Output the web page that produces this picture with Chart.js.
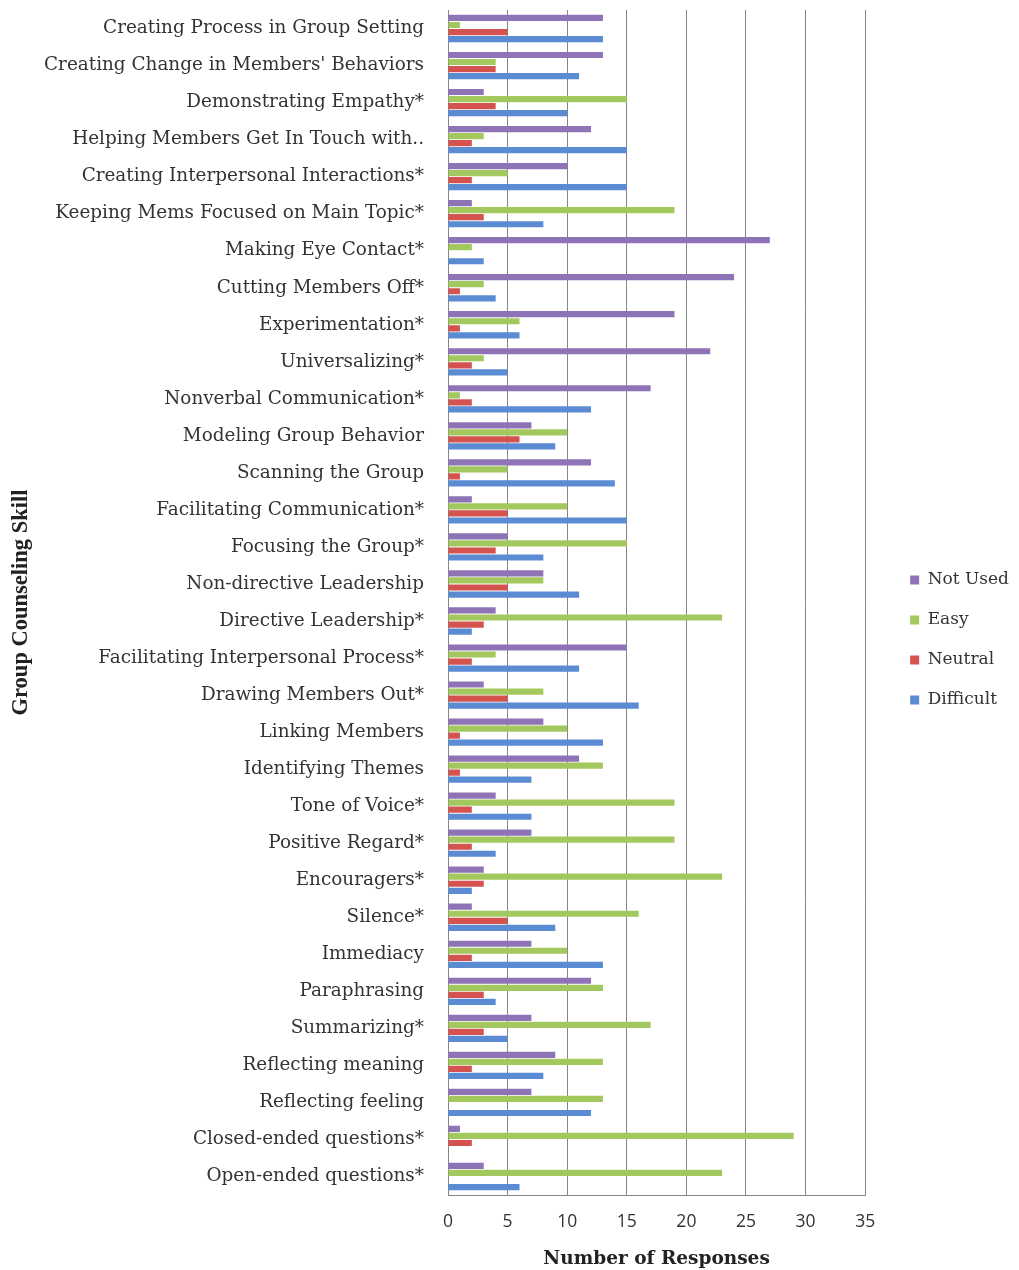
<!DOCTYPE html>
<html>
<head>
<meta charset="utf-8">
<script src="https://cdn.jsdelivr.net/npm/chart.js@4/dist/chart.umd.min.js"></script>
<style>
  html, body { margin: 0; padding: 0; background: #ffffff; }
  #wrap { width: 1019px; height: 1270px; position: relative; }
</style>
</head>
<body>
<div id="wrap"><canvas id="c" width="1019" height="1270"></canvas></div>
<script>
const categories = [
  "Creating Process in Group Setting",
  "Creating Change in Members' Behaviors",
  "Demonstrating Empathy*",
  "Helping Members Get In Touch with..",
  "Creating Interpersonal Interactions*",
  "Keeping Mems Focused on Main Topic*",
  "Making Eye Contact*",
  "Cutting Members Off*",
  "Experimentation*",
  "Universalizing*",
  "Nonverbal Communication*",
  "Modeling Group Behavior",
  "Scanning the Group",
  "Facilitating Communication*",
  "Focusing the Group*",
  "Non-directive Leadership",
  "Directive Leadership*",
  "Facilitating Interpersonal Process*",
  "Drawing Members Out*",
  "Linking Members",
  "Identifying Themes",
  "Tone of Voice*",
  "Positive Regard*",
  "Encouragers*",
  "Silence*",
  "Immediacy",
  "Paraphrasing",
  "Summarizing*",
  "Reflecting meaning",
  "Reflecting feeling",
  "Closed-ended questions*",
  "Open-ended questions*"
];
const notUsed   = [13,13, 3,12,10, 2,27,24,19,22,17, 7,12, 2, 5, 8, 4,15, 3, 8,11, 4, 7, 3, 2, 7,12, 7, 9, 7, 1, 3];
const easy      = [ 1, 4,15, 3, 5,19, 2, 3, 6, 3, 1,10, 5,10,15, 8,23, 4, 8,10,13,19,19,23,16,10,13,17,13,13,29,23];
const neutral   = [ 5, 4, 4, 2, 2, 3, 0, 1, 1, 2, 2, 6, 1, 5, 4, 5, 3, 2, 5, 1, 1, 2, 2, 3, 5, 2, 3, 3, 2, 0, 2, 0];
const difficult = [13,11,10,15,15, 8, 3, 4, 6, 5,12, 9,14,15, 8,11, 2,11,16,13, 7, 7, 4, 2, 9,13, 4, 5, 8,12, 0, 6];
const xTicks = [0, 5, 10, 15, 20, 25, 30, 35];

const seriesNames = ["Not Used", "Easy", "Neutral", "Difficult"];
const seriesColors = ["#8e74b6", "#a3c95e", "#d4534f", "#5b8bd2"];
const seriesData = [notUsed, easy, neutral, difficult];

const ctx = document.getElementById('c').getContext('2d');
new Chart(ctx, {
  type: 'bar',
  data: {
    labels: categories,
    datasets: seriesNames.map((n, i) => ({
      label: n,
      data: seriesData[i],
      backgroundColor: seriesColors[i],
      borderWidth: 0,
      barPercentage: 0.88,
      categoryPercentage: 0.76
    }))
  },
  options: {
    indexAxis: 'y',
    responsive: false,
    animation: false,
    layout: { padding: { top: 10, bottom: 0, left: 0, right: 0 } },
    plugins: {
      tooltip: { enabled: false },
      legend: {
        position: 'right',
        align: 'center',
        labels: {
          boxWidth: 9,
          boxHeight: 9,
          padding: 23,
          color: '#333333',
          font: { family: 'DejaVu Serif', size: 17 }
        }
      }
    },
    scales: {
      x: {
        type: 'linear',
        min: 0,
        max: 35,
        afterBuildTicks: (s) => { s.ticks = xTicks.map(v => ({ value: v })); },
        grid: { display: true, color: '#858585', lineWidth: 1, drawTicks: false },
        border: { display: true, color: '#858585' },
        ticks: {
          padding: 17,
          color: '#333333',
          font: { family: 'Open Sans', size: 17.5 }
        },
        title: {
          display: true,
          text: 'Number of Responses',
          color: '#222222',
          font: { family: 'DejaVu Serif', size: 18.5, weight: 'bold' },
          padding: { top: 4, bottom: 0 }
        },
        afterFit: (s) => { s.height = 75; s.paddingLeft = 0; s.paddingRight = 0; }
      },
      y: {
        type: 'category',
        grid: { display: false, drawTicks: false },
        border: { display: true, color: '#858585' },
        ticks: {
          padding: 24,
          color: '#333333',
          autoSkip: false,
          font: { family: 'DejaVu Serif', size: 18.4 }
        },
        title: {
          display: true,
          text: 'Group Counseling Skill',
          color: '#222222',
          font: { family: 'Liberation Serif', size: 22.5, weight: 'bold' },
          padding: { top: 8, bottom: 0 }
        },
        afterFit: (s) => { s.width = 448; s.paddingTop = 0; s.paddingBottom = 0; }
      },
      spacer: {
        type: 'linear',
        position: 'right',
        display: true,
        grid: { display: false, drawTicks: false },
        border: { display: false },
        ticks: { display: false },
        afterFit: (s) => { s.width = 22; s.paddingTop = 0; s.paddingBottom = 0; }
      }
    }
  }
});
</script>
</body>
</html>
